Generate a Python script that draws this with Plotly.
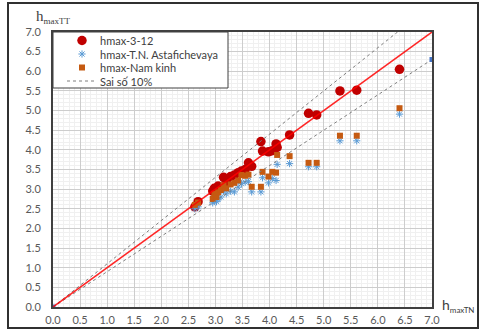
import plotly.graph_objects as go

# Observed maximum heights (hmaxTN) shared by the three methods
h_tn = [2.62, 2.68, 2.95, 2.98, 3.02, 3.05, 3.10, 3.15, 3.20, 3.28,
        3.35, 3.42, 3.48, 3.55, 3.61, 3.67, 3.84, 3.87, 3.98, 4.05,
        4.12, 4.14, 4.37, 4.72, 4.87, 5.30, 5.61, 6.40]

# Computed heights for each method
h_312 = [2.55, 2.68, 2.95, 3.02, 2.98, 3.08, 3.02, 3.30, 3.18, 3.32,
         3.36, 3.42, 3.46, 3.50, 3.67, 3.58, 4.21, 3.97, 3.95, 3.98,
         4.15, 4.06, 4.38, 4.93, 4.89, 5.50, 5.52, 6.05]
h_nam_kinh = [2.60, 2.66, 2.75, 2.88, 2.80, 2.92, 2.98, 3.10, 3.02, 3.12,
              3.16, 3.22, 3.36, 3.34, 3.37, 3.06, 3.06, 3.44, 3.32, 3.44,
              3.42, 3.87, 3.84, 3.67, 3.67, 4.36, 4.36, 5.06]
h_astaf = [2.50, 2.55, 2.65, 2.72, 2.68, 2.75, 2.80, 2.95, 2.88, 2.95,
           2.93, 3.05, 3.14, 3.18, 3.19, 2.93, 2.93, 3.29, 3.16, 3.27,
           3.22, 3.63, 3.65, 3.57, 3.57, 4.23, 4.23, 4.91]

# Reference lines: perfect agreement and +/-10% error band
line_x = [0.0, 7.0]
line_y = [0.0, 7.0]
upper_x = [0.0, 7.0 / 1.1]
upper_y = [0.0, 7.0]
lower_x = [0.0, 7.0]
lower_y = [0.0, 6.3]

series_names = ["hmax-3-12", "hmax-T.N. Astafichevaya", "hmax-Nam kinh", "Sai số 10%"]

tick_vals = [i * 0.5 for i in range(15)]
tick_text = [f"{v:.1f}" for v in tick_vals]

font_main = "Lato, 'Open Sans', sans-serif"
grey_text = "#595959"
dark = "#404040"

red_marker = dict(symbol="circle", size=9.5, color="#c00000")
star_marker = dict(symbol="asterisk-open", size=6, color="#5b9bd5",
                   line=dict(color="#5b9bd5", width=1))
square_marker = dict(symbol="square", size=6, color="#c55a11")
band_line = dict(color="#7f7f7f", width=1, dash="dot")

# plot-area geometry in pixels
ml, mr, mt, mb = 53, 49, 32, 24
W, H = 481, 331
pw = W - ml - mr
ph = H - mt - mb
axis_max = 7.0

fig = go.Figure()

fig.add_trace(go.Scatter(x=h_tn, y=h_312, mode="markers", marker=red_marker,
                         showlegend=False))
fig.add_trace(go.Scatter(x=h_tn, y=h_astaf, mode="markers", marker=star_marker,
                         showlegend=False))
fig.add_trace(go.Scatter(x=h_tn, y=h_nam_kinh, mode="markers", marker=square_marker,
                         showlegend=False))
fig.add_trace(go.Scatter(x=upper_x, y=upper_y, mode="lines", line=band_line,
                         showlegend=False))
fig.add_trace(go.Scatter(x=lower_x, y=lower_y, mode="lines+markers", line=band_line,
                         marker=dict(symbol="square", size=5, color="#4472c4"),
                         showlegend=False))
fig.add_trace(go.Scatter(x=line_x, y=line_y, mode="lines",
                         line=dict(color="rgba(255,0,0,0.85)", width=1.5),
                         showlegend=False))

# Legend drawn on an overlay axis measured in pixels of the plot area
leg_left, leg_right, leg_top, leg_bottom = ml, ml + 175, mt, mt + 56
row_y = [leg_top + 8.5, leg_top + 22, leg_top + 35.5, leg_top + 49]
sym_x = leg_left + 29
text_x = leg_left + 45

fig.add_trace(go.Scatter(x=[sym_x], y=[row_y[0]], mode="markers", marker=red_marker,
                         xaxis="x2", yaxis="y2", showlegend=False, hoverinfo="skip"))
fig.add_trace(go.Scatter(x=[sym_x], y=[row_y[1]], mode="markers", marker=star_marker,
                         xaxis="x2", yaxis="y2", showlegend=False, hoverinfo="skip"))
fig.add_trace(go.Scatter(x=[sym_x], y=[row_y[2]], mode="markers", marker=square_marker,
                         xaxis="x2", yaxis="y2", showlegend=False, hoverinfo="skip"))
fig.add_trace(go.Scatter(x=[sym_x - 15, sym_x + 14], y=[row_y[3], row_y[3]], mode="lines",
                         line=band_line, xaxis="x2", yaxis="y2", showlegend=False,
                         hoverinfo="skip"))

axis_common = dict(
    range=[0, axis_max], tickvals=tick_vals, ticktext=tick_text,
    showgrid=True, gridcolor="#cdcdcd", gridwidth=1,
    minor=dict(dtick=0.1, showgrid=True, gridcolor="#f0f0f0", gridwidth=1),
    showline=True, linecolor=dark, linewidth=2, mirror=True,
    zeroline=False, ticks="", automargin=False,
    tickfont=dict(family=font_main, size=11, color=grey_text),
)

fig.update_xaxes(**axis_common, ticklabelstandoff=2)
fig.update_yaxes(**axis_common, ticklabelstandoff=8)


def px_x(p):
    return (p - ml) / pw


def px_y(p):
    return (H - mb - p) / ph


annotations = [
    dict(text="h<sub><span style='font-size:9px'>maxTT</span></sub>",
         xref="paper", yref="paper", x=px_x(34), y=px_y(17),
         xanchor="left", yanchor="middle", showarrow=False,
         font=dict(family="'Liberation Serif', serif", size=15, color=dark)),
    dict(text="h<sub><span style='font-size:8px'>maxTN</span></sub>",
         xref="paper", yref="paper", x=px_x(440), y=px_y(305),
         xanchor="left", yanchor="middle", showarrow=False,
         font=dict(family=font_main, size=14, color=dark)),
]
for name, ry in zip(series_names, row_y):
    annotations.append(dict(
        text=name, xref="x2", yref="y2", x=text_x, y=ry,
        xanchor="left", yanchor="middle", showarrow=False,
        font=dict(family=font_main, size=11, color=dark),
    ))

# legend box expressed in the main axis units so it sits above the grid
box_x1 = (leg_right - ml) / pw * axis_max
box_y0 = axis_max - (leg_bottom - mt) / ph * axis_max

fig.update_layout(
    width=W, height=H,
    margin=dict(l=ml, r=mr, t=mt, b=mb),
    paper_bgcolor="white", plot_bgcolor="white",
    showlegend=False,
    xaxis2=dict(overlaying="x", range=[ml, W - mr], visible=False, fixedrange=True),
    yaxis2=dict(overlaying="y", range=[H - mb, mt], visible=False, fixedrange=True),
    shapes=[
        dict(type="rect", xref="x", yref="y",
             x0=0, x1=box_x1, y0=box_y0, y1=axis_max,
             line=dict(color=dark, width=1), fillcolor="white", layer="between"),
        dict(type="rect", xref="paper", yref="paper",
             x0=px_x(8), x1=px_x(478), y0=px_y(328), y1=px_y(3),
             line=dict(color="#303030", width=2), fillcolor="rgba(0,0,0,0)",
             layer="above"),
    ],
    annotations=annotations,
)

fig.write_html("out.html")
